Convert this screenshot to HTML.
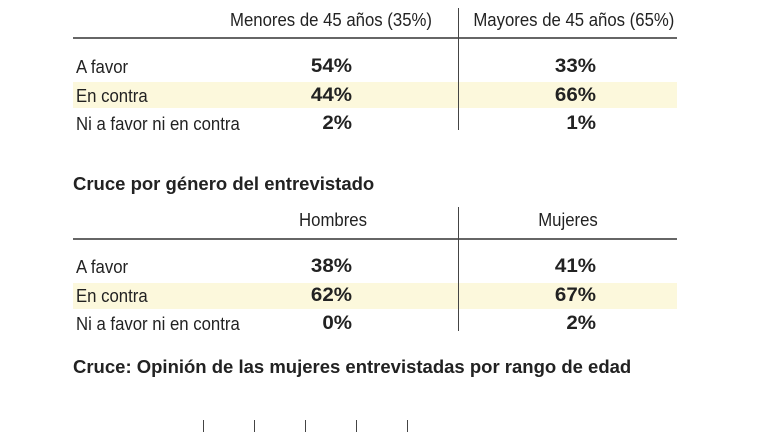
<!DOCTYPE html>
<html><head><meta charset="utf-8"><style>
body{margin:0;width:768px;height:432px;background:#fff;overflow:hidden;position:relative;font-family:"Liberation Sans Narrow","Liberation Sans",sans-serif;color:#222;}
.t{position:absolute;font-size:18px;white-space:nowrap;line-height:20px;transform:scaleX(0.93);transform-origin:left center}
.r{transform-origin:right center}
.c{transform-origin:center center}
.b{font-weight:bold}
.val{font-size:19px;transform:scaleX(1.08)}
.ttl{font-size:18.5px;transform:scaleX(1.0)}
.h{position:absolute;height:2px;background:#666}
.v{position:absolute;width:1px;background:#444}
.band{position:absolute;background:#fcf8dc}
</style></head><body>
<div class="band" style="left:73px;top:82px;width:604px;height:26px"></div>
<div class="band" style="left:73px;top:283px;width:604px;height:26px"></div>

<div class="t c" style="left:220px;top:10px;width:222px;text-align:center">Menores de 45 años (35%)</div>
<div class="t c" style="left:466px;top:10px;width:210px;text-align:center">Mayores de 45 años (65%)</div>
<div class="h" style="left:73px;top:37px;width:604px"></div>
<div class="v" style="left:458px;top:8px;height:122px"></div>

<div class="t" style="left:76px;top:57px">A favor</div>
<div class="t" style="left:76px;top:86px">En contra</div>
<div class="t" style="left:76px;top:114px">Ni a favor ni en contra</div>
<div class="t r b val" style="left:252px;top:57px;width:100px;text-align:right">54%</div>
<div class="t r b val" style="left:252px;top:86px;width:100px;text-align:right">44%</div>
<div class="t r b val" style="left:252px;top:114px;width:100px;text-align:right">2%</div>
<div class="t r b val" style="left:496px;top:57px;width:100px;text-align:right">33%</div>
<div class="t r b val" style="left:496px;top:86px;width:100px;text-align:right">66%</div>
<div class="t r b val" style="left:496px;top:114px;width:100px;text-align:right">1%</div>

<div class="t b ttl" style="left:73px;top:174px">Cruce por género del entrevistado</div>
<div class="t c" style="left:283px;top:210px;width:100px;text-align:center">Hombres</div>
<div class="t c" style="left:518px;top:210px;width:100px;text-align:center">Mujeres</div>
<div class="h" style="left:73px;top:238px;width:604px"></div>
<div class="v" style="left:458px;top:207px;height:124px"></div>

<div class="t" style="left:76px;top:257px">A favor</div>
<div class="t" style="left:76px;top:286px">En contra</div>
<div class="t" style="left:76px;top:314px">Ni a favor ni en contra</div>
<div class="t r b val" style="left:252px;top:257px;width:100px;text-align:right">38%</div>
<div class="t r b val" style="left:252px;top:286px;width:100px;text-align:right">62%</div>
<div class="t r b val" style="left:252px;top:314px;width:100px;text-align:right">0%</div>
<div class="t r b val" style="left:496px;top:257px;width:100px;text-align:right">41%</div>
<div class="t r b val" style="left:496px;top:286px;width:100px;text-align:right">67%</div>
<div class="t r b val" style="left:496px;top:314px;width:100px;text-align:right">2%</div>

<div class="t b ttl" style="left:73px;top:357px">Cruce: Opinión de las mujeres entrevistadas por rango de edad</div>

<div class="v" style="left:203px;top:420px;height:12px"></div>
<div class="v" style="left:254px;top:420px;height:12px"></div>
<div class="v" style="left:305px;top:420px;height:12px"></div>
<div class="v" style="left:356px;top:420px;height:12px"></div>
<div class="v" style="left:407px;top:420px;height:12px"></div>
</body></html>
